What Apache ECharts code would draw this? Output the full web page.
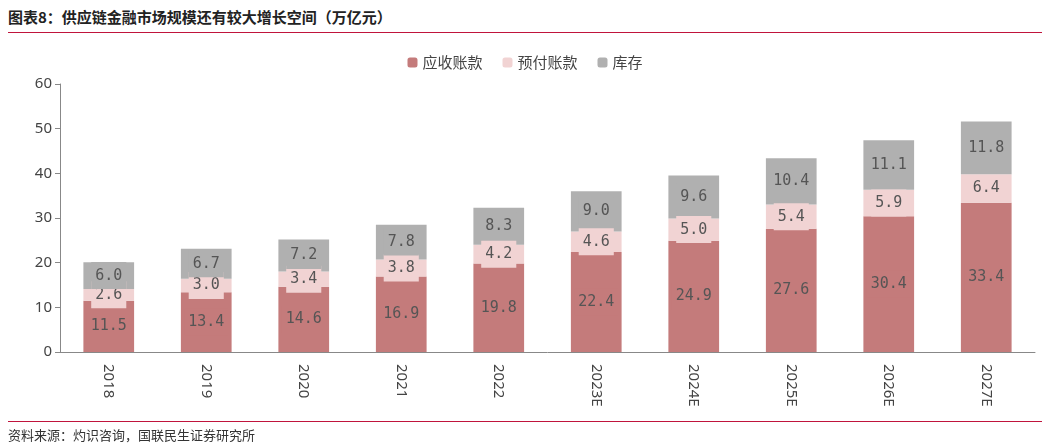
<!DOCTYPE html>
<html>
<head>
  <meta charset="utf-8">
  <script src="https://cdn.jsdelivr.net/npm/echarts@6/dist/echarts.min.js"></script>
  <style>
    body { margin: 0; background: #fff; }
    #title { position: absolute; left: 8px; top: 6px; font: bold 15px "Noto Sans CJK SC"; color: #222; }
    #top-line { position: absolute; left: 8px; top: 32px; width: 1034px; border-top: 1px solid #c0143c; }
    #bot-line { position: absolute; left: 8px; top: 421px; width: 1034px; border-top: 1px solid #c0143c; }
    #src { position: absolute; left: 8px; top: 425px; font: 13px "Noto Sans CJK SC"; color: #333; }
  </style>
</head>
<body>
  <div id="title">图表8：供应链金融市场规模还有较大增长空间（万亿元）</div>
  <div id="top-line"></div>
  <div id="main" style="width:1050px;height:446px;"></div>
  <div id="bot-line"></div>
  <div id="src">资料来源：灼识咨询，国联民生证券研究所</div>
  <script type="text/javascript">
    var years = ['2018', '2019', '2020', '2021', '2022', '2023E', '2024E', '2025E', '2026E', '2027E'];
    var receivable = [11.5, 13.4, 14.6, 16.9, 19.8, 22.4, 24.9, 27.6, 30.4, 33.4];
    var prepaid = [2.6, 3.0, 3.4, 3.8, 4.2, 4.6, 5.0, 5.4, 5.9, 6.4];
    var inventory = [6.0, 6.7, 7.2, 7.8, 8.3, 9.0, 9.6, 10.4, 11.1, 11.8];

    var myChart = echarts.init(document.getElementById('main'));
    function mk(name, data, color) {
      return {
        name: name, type: 'bar', stack: 'a', data: data, barWidth: '52%',
        itemStyle: { color: color },
        label: {
          show: true, position: 'inside', color: '#555',
          fontFamily: 'DejaVu Sans Mono', fontSize: 15,
          backgroundColor: color, padding: [6, 4],
          formatter: function (p) { return p.value.toFixed(1); }
        }
      };
    }
    myChart.setOption({
      animation: false,
      grid: { left: 60, right: 15, top: 84, bottom: 94 },
      legend: {
        top: 50, left: 'center', itemWidth: 10, itemHeight: 10, itemGap: 20,
        textStyle: { fontFamily: 'Noto Sans CJK SC', fontSize: 15, color: '#444' }
      },
      xAxis: {
        type: 'category', data: years,
        axisTick: { show: false },
        axisLine: { lineStyle: { color: '#888' } },
        axisLabel: { rotate: -90, color: '#444', fontSize: 15, margin: 12, fontFamily: 'Noto Sans' }
      },
      yAxis: {
        type: 'value', min: 0, max: 60, interval: 10,
        splitLine: { show: false },
        axisLine: { show: true, lineStyle: { color: '#888' } },
        axisTick: { show: true, lineStyle: { color: '#888' } },
        axisLabel: { color: '#444', fontSize: 15, fontFamily: 'Noto Sans' }
      },
      series: [
        mk('应收账款', receivable, '#c47b7b'),
        mk('预付账款', prepaid, '#f1d3d3'),
        mk('库存', inventory, '#b0b0b0')
      ]
    });
  </script>
</body>
</html>
